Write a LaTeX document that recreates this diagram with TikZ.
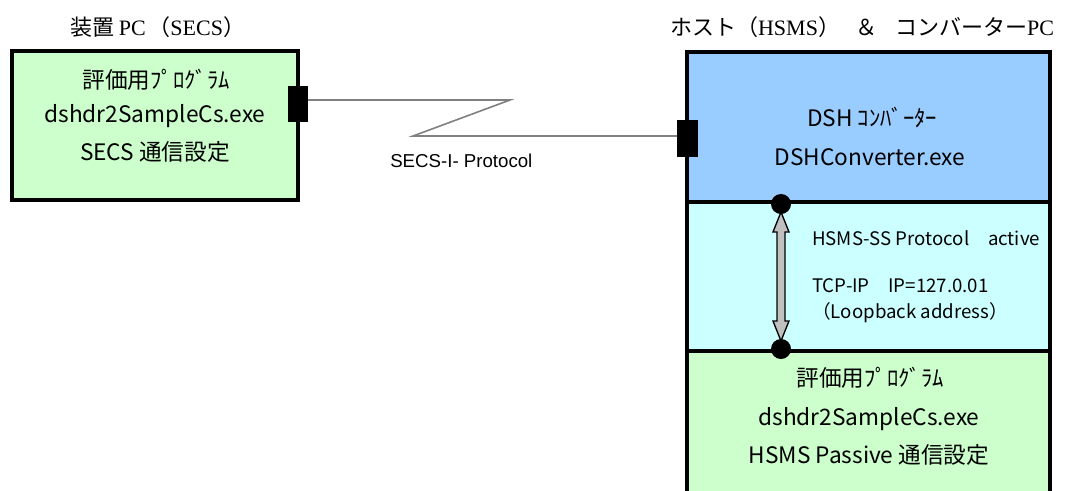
\documentclass[tikz,border=0pt]{standalone}
\usepackage{fontspec}
\setmainfont{Noto Sans CJK JP}
\newfontfamily\serifl{Liberation Serif}
\newfontfamily\arialf{Liberation Sans}
\usetikzlibrary{calc}
\definecolor{boxgreen}{HTML}{CCFFCC}
\definecolor{boxblue}{HTML}{99CCFF}
\definecolor{boxcyan}{HTML}{CCFFFF}
\definecolor{wiregray}{HTML}{808080}
\definecolor{arrowgray}{HTML}{C0C0C0}
\begin{document}
\begin{tikzpicture}[x=0.75pt,y=-0.75pt,
  frame/.style={draw=black, line width=3pt, inner sep=0pt, outer sep=0pt},
  port/.style={fill=black, draw=none, inner sep=0pt, outer sep=0pt},
  boxtxt/.style={font=\fontsize{17}{20}\selectfont, anchor=base, inner sep=0pt},
  midtxt/.style={font=\fontsize{14}{17}\selectfont, anchor=base west, inner sep=0pt},
  hdr/.style={font=\fontsize{16.5}{20}\selectfont, anchor=base, inner sep=0pt},
  dot/.style={circle, fill=black, inner sep=0pt, minimum size=15pt},
  wire/.style={draw=wiregray, line width=1.2pt},
  dblarrow/.style={draw=black, line width=1pt, fill=arrowgray, line join=miter}]
\useasboundingbox (0,0) rectangle (1066,490);

% headers
\node[hdr] (hL) at (158,35) {装置\hspace{3pt}{\serifl PC}\hspace{2pt}（{\serifl SECS}）};
\node[hdr] (hR) at (862,35) {ホスト（{\serifl HSMS}）\hspace{0.7em}＆\hspace{0.8em}コンバーター{\serifl PC}};

% left box
\node[frame, fill=boxgreen, minimum width=214.5pt, minimum height=111.75pt, anchor=north west] (L) at (12,51) {};
\node[boxtxt] (l1) at (156,88) {評価用ﾌﾟﾛｸﾞﾗﾑ};
\node[boxtxt] (l2) at (155,122) {dshdr2SampleCs.exe};
\node[boxtxt] (l3) at (155,160) {SECS 通信設定};

% right block
\node[draw=none, fill=boxgreen, inner sep=0pt, outer sep=0pt, minimum width=272.25pt, minimum height=108.75pt, anchor=north west] (R3) at (687,351) {};
\draw[line width=3pt] (R3.north west) -- (R3.south west);
\draw[line width=3pt] (R3.north east) -- (R3.south east);
\node[frame, fill=boxblue, minimum width=272.25pt, minimum height=112.5pt, anchor=north west] (R1) at (687,52) {};
\node[frame, fill=boxcyan, minimum width=272.25pt, minimum height=111.75pt, anchor=north west] (R2) at (687,202) {};

\node[boxtxt] (r1) at (872,126) {DSH ｺﾝﾊﾞｰﾀｰ};
\node[boxtxt] (r2) at (870,165) {DSHConverter.exe};

\node[midtxt] (m1) at (812,245) {HSMS-SS Protocol　active};
\node[midtxt] (m2) at (812,292) {TCP-IP　IP=127.0.01};
\node[midtxt] (m3) at (812,318) {（Loopback address）};

\node[boxtxt] (b1) at (870,386) {評価用ﾌﾟﾛｸﾞﾗﾑ};
\node[boxtxt] (b2) at (869,425) {dshdr2SampleCs.exe};
\node[boxtxt] (b3) at (869,463) {HSMS Passive 通信設定};

% ports and wire
\node[port, minimum width=15pt, minimum height=27pt] (PL) at (298,104) {};
\node[port, minimum width=15.75pt, minimum height=27.75pt] (PR) at (687.5,138.5) {};
\coordinate (z1) at (510,100);
\coordinate (z2) at (413,136);
\draw[wire] (PL.east |- z1) -- (z1) -- (z2) -- (PR.west |- z2);
\node[font=\arialf\fontsize{14}{17}\selectfont, anchor=base west, inner sep=0pt] (proto) at (390,167) {SECS-I- Protocol};

% dots and double arrow
\coordinate (D1c) at (781,204);
\coordinate (D2c) at (781,349);
\draw[dblarrow] ($(D1c)+(0,8)$) -- ++(8,20) -- ++(-4,0) -- ($(D2c)+(4,-28)$) -- ++(4,0) -- ($(D2c)+(0,-8)$) -- ++(-8,-20) -- ++(4,0) -- ($(D1c)+(-4,28)$) -- ++(-4,0) -- cycle;
\node[dot] (D1) at (D1c) {};
\node[dot] (D2) at (D2c) {};
\end{tikzpicture}
\end{document}
